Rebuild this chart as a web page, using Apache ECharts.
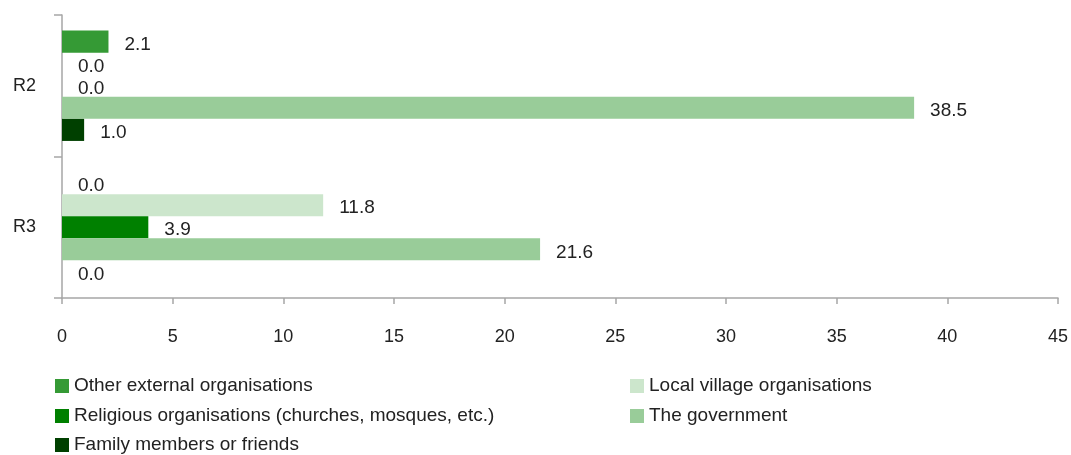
<!DOCTYPE html>
<html>
<head>
<meta charset="utf-8">
<script src="https://cdn.jsdelivr.net/npm/echarts@6/dist/echarts.min.js"></script>
<style>html,body{margin:0;padding:0;background:#fff}#c{width:1071px;height:455px}</style>
</head>
<body>
<div id="c"></div>
<script>
const categories = ['R2', 'R3'];
const seriesNames = ['Other external organisations', 'Local village organisations', 'Religious organisations (churches, mosques, etc.)', 'The government', 'Family members or friends'];
const otherExternal = [2.1, 0.0];
const localVillage = [0.0, 11.8];
const religious = [0.0, 3.9];
const government = [38.5, 21.6];
const family = [1.0, 0.0];
const xTicks = [0, 5, 10, 15, 20, 25, 30, 35, 40, 45];
const colors = ['#359a35', '#cce6cc', '#008000', '#99cc99', '#004000'];

const values = [otherExternal, localVillage, religious, government, family];
const font = 'Liberation Sans, Arial, sans-serif';
const textColor = '#222';
// legend placement: [left, row-center-y] for each series
const legendPos = [[55, 386], [630, 386], [55, 416], [630, 416], [55, 445]];

const chart = echarts.init(document.getElementById('c'));
chart.setOption({
  animation: false,
  grid: { left: 62, right: 13, top: 15, bottom: 157 },
  legend: seriesNames.map((n, i) => ({
    left: legendPos[i][0], top: legendPos[i][1] - 10, padding: 0,
    itemWidth: 14, itemHeight: 14, icon: 'rect', itemGap: 5,
    data: [n], selectedMode: false,
    textStyle: { fontFamily: font, fontSize: 19, lineHeight: 20, color: textColor }
  })),
  xAxis: {
    type: 'value', min: xTicks[0], max: xTicks[xTicks.length - 1], interval: 5,
    axisLine: { show: true, lineStyle: { color: '#a6a6a6', width: 1.5 } },
    axisTick: { show: true, length: 6, lineStyle: { color: '#a6a6a6', width: 1.5 } },
    splitLine: { show: false },
    axisLabel: { margin: 30, fontFamily: font, fontSize: 18, color: textColor }
  },
  yAxis: {
    type: 'category', data: categories, inverse: true,
    axisLine: { show: true, lineStyle: { color: '#a6a6a6', width: 1.5 } },
    axisTick: { show: true, length: 8, lineStyle: { color: '#a6a6a6', width: 1.5 } },
    axisLabel: { margin: 26, fontFamily: font, fontSize: 18, color: textColor }
  },
  series: seriesNames.map((n, i) => ({
    name: n, type: 'bar', data: values[i],
    barGap: '0%', barCategoryGap: '22%',
    itemStyle: { color: colors[i] },
    label: { show: true, position: 'right', distance: 16, offset: [0, 3],
      formatter: p => p.value.toFixed(1),
      fontFamily: font, fontSize: 19, color: textColor }
  }))
});
</script>
</body>
</html>
